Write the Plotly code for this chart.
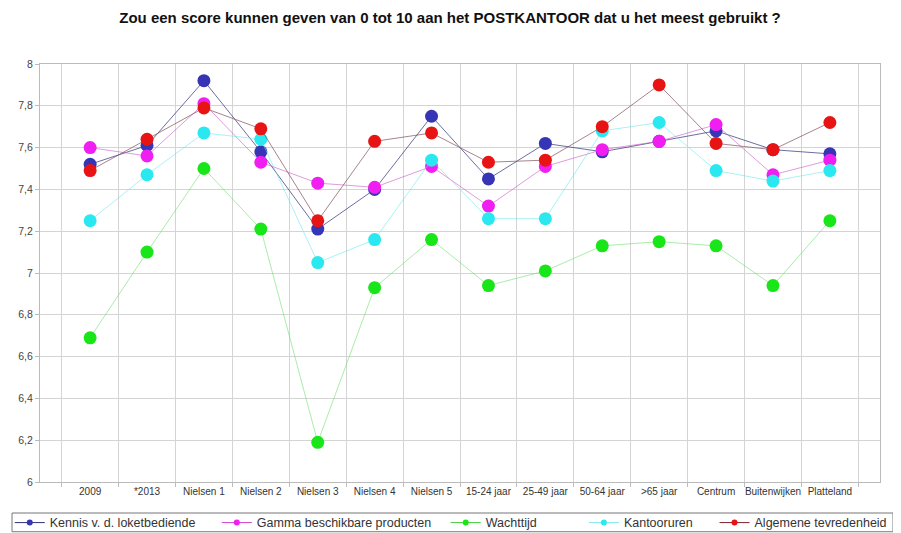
import plotly.graph_objects as go

categories = ["2009", "*2013", "Nielsen 1", "Nielsen 2", "Nielsen 3", "Nielsen 4",
              "Nielsen 5", "15-24 jaar", "25-49 jaar", "50-64 jaar", ">65 jaar",
              "Centrum", "Buitenwijken", "Platteland"]

kennis = [7.52, 7.61, 7.92, 7.58, 7.21, 7.40, 7.75, 7.45, 7.62, 7.58, 7.63, 7.68, 7.59, 7.57]
gamma = [7.60, 7.56, 7.81, 7.53, 7.43, 7.41, 7.51, 7.32, 7.51, 7.59, 7.63, 7.71, 7.47, 7.54]
wachttijd = [6.69, 7.10, 7.50, 7.21, 6.19, 6.93, 7.16, 6.94, 7.01, 7.13, 7.15, 7.13, 6.94, 7.25]
kantooruren = [7.25, 7.47, 7.67, 7.64, 7.05, 7.16, 7.54, 7.26, 7.26, 7.68, 7.72, 7.49, 7.44, 7.49]
algemeen = [7.49, 7.64, 7.79, 7.69, 7.25, 7.63, 7.67, 7.53, 7.54, 7.70, 7.90, 7.62, 7.59, 7.72]

# name, values, marker colour, line colour, legend line colour, legend x (paper)
series = [
    ("Kennis v. d. loketbediende", kennis, "#3535b5", "rgba(60,60,130,0.75)", "#30307a", -0.036),
    ("Gamma beschikbare producten", gamma, "#f01ef0", "rgba(200,90,200,0.6)", "#d040d0", 0.2105),
    ("Wachttijd", wachttijd, "#19e619", "rgba(100,220,100,0.55)", "#40d040", 0.483),
    ("Kantooruren", kantooruren, "#2ae8f0", "rgba(100,230,235,0.55)", "#80e8f0", 0.6475),
    ("Algemene tevredenheid", algemeen, "#e81414", "rgba(130,80,90,0.7)", "#802030", 0.803),
]

FONT = "Liberation Sans, Arial, sans-serif"

fig = go.Figure()
for name, vals, mcol, lcol, _, _ in series:
    fig.add_trace(go.Scatter(
        x=categories, y=vals, name=name, mode="lines+markers", showlegend=False,
        line=dict(color=lcol, width=1),
        marker=dict(color=mcol, size=13)))

# legend entries with small markers, one legend per entry so they can be spread out
legend_layout = {}
for i, (name, vals, mcol, lcol, leg_line, lx) in enumerate(series):
    key = "legend" if i == 0 else f"legend{i + 1}"
    fig.add_trace(go.Scatter(
        x=[None], y=[None], name=name, mode="lines+markers", legend=key,
        line=dict(color=leg_line, width=1), marker=dict(color=mcol, size=6)))
    legend_layout[key] = dict(x=lx, xanchor="left", y=-0.098, yanchor="middle",
                              bgcolor="rgba(0,0,0,0)", borderwidth=0,
                              font=dict(family=FONT, size=12.5, color="#333"))

fig.add_shape(type="rect", xref="paper", yref="paper",
              x0=-0.0333, x1=1.0155, y0=-0.0742, y1=-0.119,
              line=dict(color="#777", width=1))

# page body has an 8px margin, so the figure is shifted up/left by that amount
fig.update_layout(
    width=901, height=533,
    title=dict(text="<b>Zou een score kunnen geven van 0 tot 10 aan het POSTKANTOOR dat u het meest gebruikt ?</b>",
               x=(450 - 8) / 901, xanchor="center", y=1 - 10 / 533, yanchor="middle",
               font=dict(family=FONT, size=15, color="#111")),
    font=dict(family=FONT, size=10, color="#333"),
    separators=", ",
    plot_bgcolor="white", paper_bgcolor="white",
    margin=dict(l=32, r=29, t=56, b=59, autoexpand=False),
    showlegend=True,
    xaxis=dict(type="category", tickson="boundaries", ticks="outside", ticklen=4,
               tickcolor="#bbb", showgrid=True, gridcolor="#d4d4d4", tickangle=0,
               showline=True, linecolor="#bbb", mirror=True, automargin=False,
               tickfont=dict(size=10, color="#333")),
    yaxis=dict(range=[6, 8], dtick=0.2, tick0=6, ticks="outside", ticklen=4,
               tickcolor="#bbb", showgrid=True, gridcolor="#d4d4d4",
               showline=True, linecolor="#bbb", mirror=True, zeroline=False,
               automargin=False, tickfont=dict(size=10.5, color="#444")),
    **legend_layout,
)

fig.write_html("out.html")
